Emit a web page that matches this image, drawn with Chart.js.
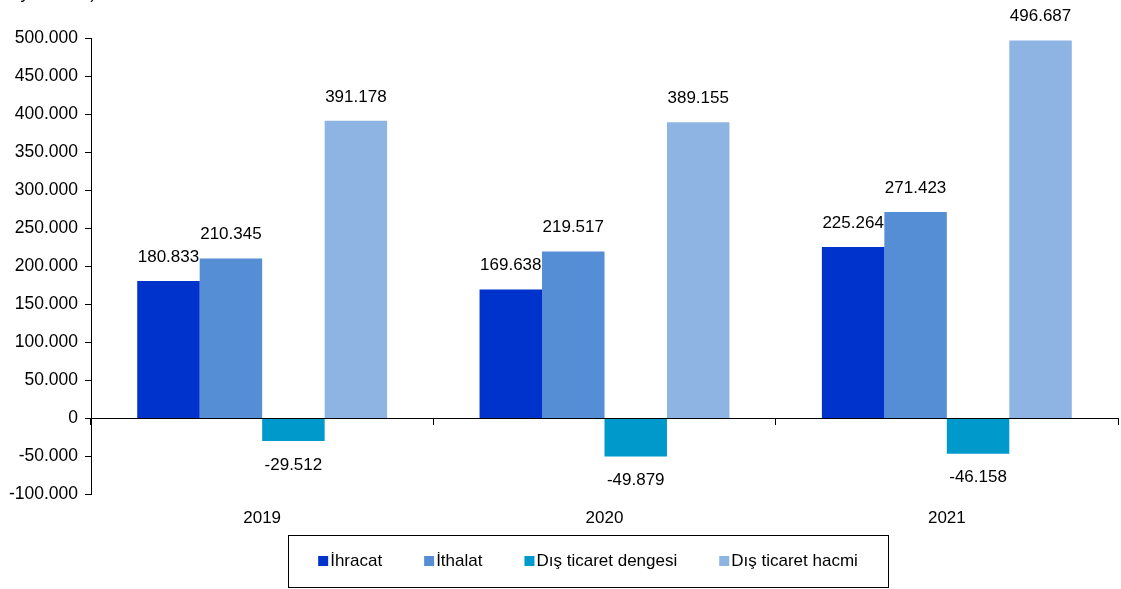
<!DOCTYPE html>
<html>
<head>
<meta charset="utf-8">
<script src="https://cdn.jsdelivr.net/npm/chart.js@4/dist/chart.umd.min.js"></script>
<style>
  html, body { margin: 0; padding: 0; background: #fff; }
  #wrap { width: 1121px; height: 589px; position: relative; }
</style>
</head>
<body>
<div id="wrap"><canvas id="myChart" width="1121" height="589"></canvas></div>
<script>
// yillar
var years = ["2019", "2020", "2021"];

// milyon dolar
var ihracat = [180833, 169638, 225264];
var ithalat = [210345, 219517, 271423];
var denge = [-29512, -49879, -46158];
var hacim = [391178, 389155, 496687];

var seriesNames = ["İhracat", "İthalat", "Dış ticaret dengesi", "Dış ticaret hacmi"];
var seriesColors = ["#0033cc", "#558ed5", "#0099cc", "#8eb4e3"];

var yMin = -100000, yMax = 500000, yStep = 50000;

var FONT = "'Liberation Sans', Arial, sans-serif";

function fmt(v) {
    var s = Math.abs(Math.round(v)).toString().replace(/\B(?=(\d{3})+(?!\d))/g, ".");
    return (v < 0 ? "-" : "") + s;
}

Chart.defaults.font.family = FONT;
Chart.defaults.font.size = 17;
Chart.defaults.color = "#000";

// bar ustu / alti degerler
var valueLabels = {
    id: "valueLabels",
    afterDatasetsDraw: function(chart) {
        var ctx = chart.ctx;
        ctx.save();
        ctx.font = "17px " + FONT;
        ctx.fillStyle = "#000";
        ctx.textAlign = "center";
        ctx.textBaseline = "middle";
        chart.data.datasets.forEach(function(ds, i) {
            var meta = chart.getDatasetMeta(i);
            meta.data.forEach(function(bar, j) {
                var v = ds.data[j];
                var y = v < 0 ? bar.y + 24 : bar.y - 24;
                ctx.fillText(fmt(v), bar.x, y);
            });
        });
        ctx.restore();
    }
};

// ust kesik baslik + cerceveli legend
var extras = {
    id: "extras",
    afterDraw: function(chart) {
        var ctx = chart.ctx;
        ctx.save();
        ctx.font = "17px " + FONT;
        ctx.fillStyle = "#000";
        ctx.textAlign = "left";
        ctx.textBaseline = "alphabetic";
        ctx.fillText("(Milyon dolar)", -7, -1);

        // legend
        var gap = 2, box = 10, spacing = 42;
        var total = 0;
        chart.data.datasets.forEach(function(ds, i) {
            total += box + gap + ctx.measureText(ds.label).width;
            if (i < chart.data.datasets.length - 1) total += spacing;
        });
        var cx = 588, cy = 561;
        var x = cx - total / 2;
        ctx.textBaseline = "middle";
        chart.data.datasets.forEach(function(ds) {
            ctx.fillStyle = ds.backgroundColor;
            ctx.fillRect(x, cy - box / 2, box, box);
            ctx.fillStyle = "#000";
            ctx.fillText(ds.label, x + box + gap, cy);
            x += box + gap + ctx.measureText(ds.label).width + spacing;
        });
        ctx.strokeStyle = "#000";
        ctx.lineWidth = 1;
        ctx.strokeRect(288.5, 535.5, 600, 52);
        ctx.restore();
    }
};

var ctx = document.getElementById("myChart").getContext("2d");

var myChart = new Chart(ctx, {
    type: "bar",
    data: {
        labels: years,
        datasets: seriesNames.map(function(name, i) {
            return {
                label: name,
                data: [ihracat, ithalat, denge, hacim][i],
                backgroundColor: seriesColors[i],
                borderWidth: 0,
                categoryPercentage: 0.73,
                barPercentage: 1.0,
                xAxisID: "x"
            };
        })
    },
    options: {
        responsive: false,
        animation: false,
        layout: { padding: { top: 38, right: 3, left: 0, bottom: 54 } },
        plugins: {
            tooltip: { enabled: false },
            legend: { display: false }
        },
        scales: {
            x: {
                position: "bottom",
                grid: { display: false },
                border: { display: false },
                ticks: { padding: 6, font: { size: 17 } }
            },
            x2: {
                type: "category",
                labels: years,
                position: { y: 0 },
                offset: true,
                grid: { offset: true, drawOnChartArea: false, drawTicks: true, tickLength: 6, color: "#000" },
                border: { display: true, color: "#000", width: 1 },
                ticks: { display: false }
            },
            y: {
                min: yMin,
                max: yMax,
                ticks: {
                    stepSize: yStep,
                    padding: 7,
                    font: { size: 17.5 },
                    callback: function(v) { return fmt(v); }
                },
                grid: { drawOnChartArea: false, drawTicks: true, tickLength: 6, color: "#000" },
                border: { color: "#000", width: 1 },
                afterFit: function(scale) { scale.width = 91; }
            }
        }
    },
    plugins: [valueLabels, extras]
});
</script>
</body>
</html>
